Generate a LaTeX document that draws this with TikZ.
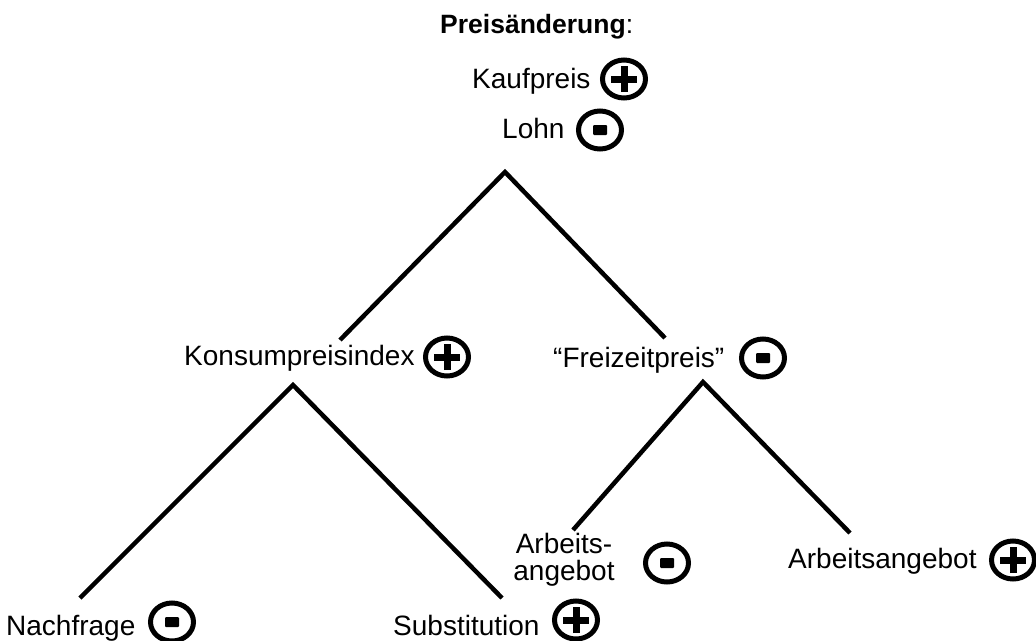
\documentclass[tikz,border=0pt]{standalone}
\usepackage{fontspec}
\setmainfont{Liberation Sans}
\usetikzlibrary{shapes.geometric}

\begin{document}
\begin{tikzpicture}[x=1pt,y=-1pt,
        lbl/.style={anchor=base west,inner sep=0pt,font=\fontsize{28}{28}\selectfont},
        sign/.style={ellipse,draw,line width=5pt,minimum width=43pt,minimum height=38pt,inner sep=0pt,outer sep=0pt},
        plus/.style={sign,path picture={
            \draw[line width=7pt] ([xshift=-13pt]path picture bounding box.center) -- ([xshift=13pt]path picture bounding box.center)
                ([yshift=-13pt]path picture bounding box.center) -- ([yshift=13pt]path picture bounding box.center);}},
        minus/.style={sign,path picture={
            \fill[rounded corners=1pt] ([shift={(-7pt,-5pt)}]path picture bounding box.center) rectangle ([shift={(7pt,5pt)}]path picture bounding box.center);}},
        branch/.style={line width=4.5pt,miter limit=10}]
    \useasboundingbox (0,0) rectangle (1036,640);

    % Kopf
    \node[lbl,font=\fontsize{26.5}{28}\selectfont] (pre) at (440,33) {\textbf{Preisänderung}:};
    \node[lbl] (kauf) at (472,88) {Kaufpreis};
    \node[plus] (kaufs) at (624,79) {};
    \node[lbl] (lohn) at (502,138) {Lohn};
    \node[minus] (lohns) at (600,130) {};

    % zweite Ebene
    \node[lbl] (konsum) at (184,365) {Konsumpreisindex};
    \node[plus] (konsums) at (447,357) {};
    \node[lbl] (frei) at (553,367) {``Freizeitpreis''};
    \node[minus] (freis) at (763,358) {};

    % unterste Ebene
    \node[lbl] (nach) at (6,635) {Nachfrage};
    \node[minus] (nachs) at (172,622) {};
    \node[lbl] (subst) at (393,635) {Substitution};
    \node[plus] (substs) at (576,620) {};
    \node[align=center,inner sep=0pt,font=\fontsize{28}{27}\selectfont] (arb) at (564,560) {Arbeits-\\angebot};
    \node[minus] (arbs) at (667,563) {};
    \node[lbl] (arbang) at (788,568) {Arbeitsangebot};
    \node[plus] (arbangs) at (1013,560) {};

    % Verzweigungen
    \coordinate (top) at (505,172);
    \coordinate (topl) at (340,340);
    \coordinate (topr) at (665,338);
    \coordinate (kon) at (293,385);
    \coordinate (konl) at (80,598);
    \coordinate (konr) at (502,598);
    \coordinate (fre) at (703,382);
    \coordinate (frel) at (573,530);
    \coordinate (frer) at (850,533);

    \draw[branch] (topl) -- (top) -- (topr);
    \draw[branch] (konl) -- (kon) -- (konr);
    \draw[branch] (frel) -- (fre) -- (frer);
\end{tikzpicture}
\end{document}
